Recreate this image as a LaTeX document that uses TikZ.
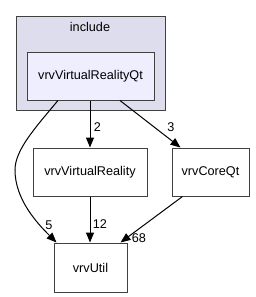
\documentclass[tikz,border=0pt]{standalone}
\usepackage{fontspec}
\setmainfont{Liberation Sans}
\usetikzlibrary{arrows.meta,positioning,calc}
\definecolor{clusterbg}{HTML}{DDDDEE}
\definecolor{dirbg}{HTML}{EEEEFF}
\definecolor{edge}{HTML}{000000}
\tikzset{
  cluster/.style={draw=black!75,fill=clusterbg,line width=0.75pt,minimum width=111.75pt,minimum height=70.5pt,inner sep=0pt},
  curdir/.style={draw=black!75,fill=dirbg,line width=0.75pt,minimum width=95.25pt,minimum height=36pt,inner sep=0pt,font=\fontsize{9.5}{11}\selectfont},
  dir/.style={draw=black!75,fill=white,line width=0.75pt,minimum height=36pt,inner sep=0pt,font=\fontsize{9.5}{11}\selectfont},
  dep/.style={-{Triangle[length=7.5pt,width=6pt]},line width=0.75pt,draw=edge},
  lbl/.style={inner sep=0pt,font=\fontsize{9.5}{11}\selectfont}
}

\begin{document}
\begin{tikzpicture}[x=0.75pt,y=-0.75pt]
    \useasboundingbox (0,0) rectangle (255,297);
    \node[cluster] (include) at (90.5,63) {};
    \node[lbl] (includelbl) at (90,27) {include};
    \node[curdir] (vrqt) at (90.5,76) {vrvVirtualRealityQt};
    \node[dir,minimum width=85.5pt] (vr) at (90,172) {vrvVirtualReality};
    \node[dir,minimum width=57.75pt] (coreqt) at (210.5,172) {vrvCoreQt};
    \node[dir,minimum width=54.75pt,minimum height=36.75pt] (util) at (90.5,267.5) {vrvUtil};

    \draw[dep] ([xshift=-24.4pt]vrqt.south) .. controls (35,128) and (15,150) .. (15,170)
      .. controls (15,200) and (38,224) .. ([xshift=-25.5pt]util.north);
    \draw[dep] (vrqt.south -| vr.north) -- (vr.north);
    \draw[dep] ([xshift=22.1pt]vrqt.south) -- ([xshift=-22.5pt]coreqt.north);
    \draw[dep] (vr.south) -- (vr.south |- util.north);
    \draw[dep] ([xshift=-21pt]coreqt.south) -- ([xshift=22.5pt]util.north);

    \node[lbl] (n5) at (49,225) {5};
    \node[lbl] (n2) at (97.5,127) {2};
    \node[lbl] (n3) at (171,127) {3};
    \node[lbl] (n12) at (100,224) {12};
    \node[lbl] (n68) at (139,238) {68};
  \end{tikzpicture}
\end{document}
